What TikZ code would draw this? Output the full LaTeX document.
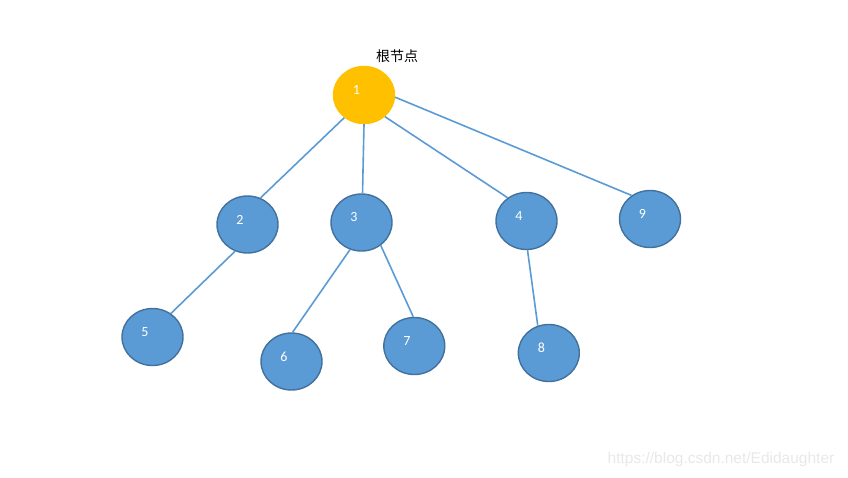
\documentclass[tikz,border=0pt]{standalone}
\usepackage{fontspec}
\setmainfont{Carlito}
\newfontfamily\cjkfont{Noto Sans CJK SC}
\newfontfamily\markfont{Liberation Sans}
\usetikzlibrary{shapes.geometric}
\definecolor{rootyellow}{RGB}{255,192,0}
\definecolor{nodeblue}{RGB}{91,155,213}
\definecolor{nodeedge}{RGB}{65,113,156}
\definecolor{markgray}{RGB}{232,232,232}

\begin{document}
\begin{tikzpicture}[
    x=1pt, y=-1pt,
    tnode/.style={ellipse, draw=nodeedge, line width=1.4pt, fill=nodeblue, minimum width=61pt, minimum height=57pt, inner sep=0pt,
        label={[font=\fontsize{14}{14}\selectfont, text=white, xshift=-7.5pt, yshift=5pt]center:#1}},
    root/.style={tnode=#1, draw=rootyellow, fill=rootyellow},
    edge/.style={draw=nodeblue, line width=1.6pt}
]
\useasboundingbox (0,0) rectangle (848,477);
\node[root=1] (n1) at (364,95) {};
\node[tnode=2] (n2) at (247.5,224.5) {};
\node[tnode=3] (n3) at (361.5,222.5) {};
\node[tnode=4] (n4) at (526.5,221) {};
\node[tnode=9] (n9) at (650,219) {};
\node[tnode=5] (n5) at (152.5,337) {};
\node[tnode=6] (n6) at (291.5,361.5) {};
\node[tnode=7] (n7) at (414.3,346) {};
\node[tnode=8] (n8) at (548.8,353) {};
\node[font=\cjkfont\fontsize{14}{14}\selectfont] (title) at (397,56.5) {根节点};
\node[font=\markfont\fontsize{15.5}{15.5}\selectfont, text=markgray] (mark) at (721,459) {https://blog.csdn.net/Edidaughter};
% tree edges
\draw[edge] (n1.229) -- (n2.64);
\draw[edge] (n1.270) -- (n3.88);
\draw[edge] (n1.314) -- (n4.129);
\draw[edge] (n1.356) -- (n9.128);
\draw[edge] (n2.245) -- (n5.52);
\draw[edge] (n3.247) -- (n6.88);
\draw[edge] (n3.310) -- (n7.92);
\draw[edge] (n4.272) -- (n8.112);
\end{tikzpicture}
\end{document}
